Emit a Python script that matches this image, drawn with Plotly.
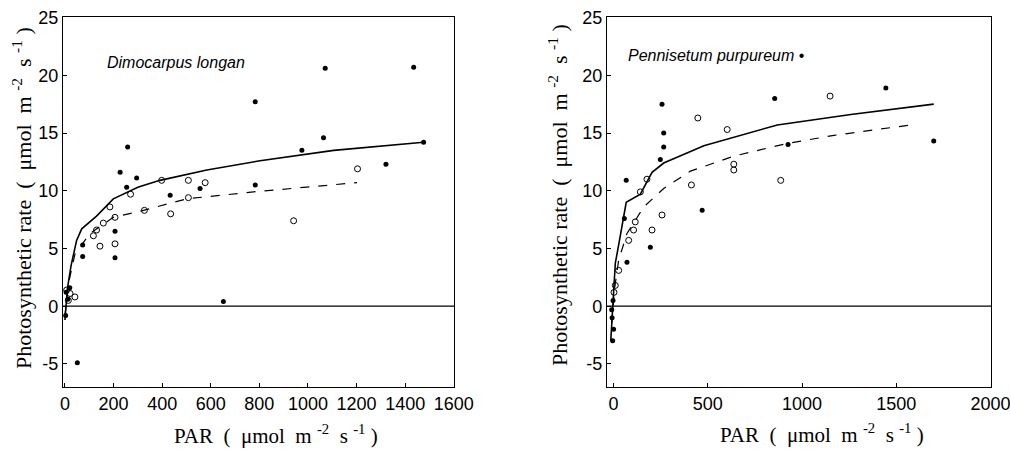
import plotly.graph_objects as go

# ---------- Dimocarpus longan (left) ----------
L_closed_x = [1435, 1071, 783, 1064, 1476, 975, 258, 227, 295, 1321, 783, 254, 556, 433, 206, 206, 73, 73, 51, 652, 5, 12, 20, 3]
L_closed_y = [20.7, 20.6, 17.7, 14.6, 14.2, 13.5, 13.8, 11.6, 11.1, 12.3, 10.5, 10.3, 10.2, 9.6, 6.5, 4.2, 5.3, 4.3, -4.9, 0.4, 1.2, 0.6, 1.6, -0.8]
L_open_x = [1204, 398, 508, 577, 941, 435, 327, 270, 185, 206, 158, 130, 117, 144, 508, 21, 41, 7, 14, 206]
L_open_y = [11.9, 10.9, 10.9, 10.7, 7.4, 8.0, 8.3, 9.7, 8.6, 7.7, 7.2, 6.6, 6.1, 5.2, 9.4, 1.1, 0.8, 1.4, 0.5, 5.4]
L_solid_x = [0, 10, 25, 48, 69, 130, 199, 300, 391, 584, 803, 1106, 1476]
L_solid_y = [-1.2, 1.5, 3.5, 5.7, 6.7, 7.8, 9.3, 10.3, 10.9, 11.8, 12.6, 13.5, 14.2]
L_dash_x = [0, 15, 41, 103, 199, 323, 501, 776, 1202]
L_dash_y = [-0.8, 2.0, 4.5, 6.3, 7.7, 8.3, 9.3, 9.9, 10.7]

# ---------- Pennisetum purpureum (right) ----------
R_closed_x = [1445, 855, 257, 266, 266, 248, 1699, 926, 67, 470, 57, 195, 71, -5, -8, -3, 0, -10]
R_closed_y = [18.9, 18.0, 17.5, 15.0, 13.8, 12.7, 14.3, 14.0, 10.9, 8.3, 7.6, 5.1, 3.8, -3.0, -1.0, 0.5, -2.0, -0.3]
R_open_x = [1149, 447, 603, 638, 638, 887, 413, 177, 142, 257, 204, 115, 106, 80, 27, 9, 2]
R_open_y = [18.2, 16.3, 15.3, 12.3, 11.8, 10.9, 10.5, 11.0, 9.9, 7.9, 6.6, 7.3, 6.6, 5.7, 3.1, 1.8, 1.2]
R_solid_x = [-15, -5, 9, 30, 53, 67, 142, 204, 266, 479, 869, 1259, 1699]
R_solid_y = [-3.0, -0.5, 3.7, 5.6, 7.7, 9.0, 9.7, 11.6, 12.4, 13.9, 15.7, 16.6, 17.5]
R_dash_x = [-10, 5, 27, 71, 160, 266, 408, 638, 922, 1170, 1578]
R_dash_y = [-1.5, 1.5, 4.0, 6.3, 8.6, 10.2, 11.7, 13.0, 14.1, 14.8, 15.7]

L_xticks = [0, 200, 400, 600, 800, 1000, 1200, 1400, 1600]
R_xticks = [0, 500, 1000, 1500, 2000]
y_ticks = [-5, 0, 5, 10, 15, 20, 25]
y_ticktext = ["-5", "0", "5", "10", "15", "20", "25"]

W, H = 1010, 453
fig = go.Figure()

def add_panel(xa, ya, cx, cy, ox, oy, sx, sy, dx, dy):
    fig.add_trace(go.Scatter(x=sx, y=sy, mode="lines", xaxis=xa, yaxis=ya,
                             line=dict(color="black", width=1.6), showlegend=False))
    fig.add_trace(go.Scatter(x=dx, y=dy, mode="lines", xaxis=xa, yaxis=ya,
                             line=dict(color="black", width=1.2, dash="dash"), showlegend=False))
    fig.add_trace(go.Scatter(x=cx, y=cy, mode="markers", xaxis=xa, yaxis=ya,
                             marker=dict(color="black", size=5, symbol="circle"), showlegend=False))
    fig.add_trace(go.Scatter(x=ox, y=oy, mode="markers", xaxis=xa, yaxis=ya,
                             marker=dict(color="black", size=6, symbol="circle-open", line=dict(color="black", width=1)),
                             showlegend=False))

add_panel("x", "y", L_closed_x, L_closed_y, L_open_x, L_open_y, L_solid_x, L_solid_y, L_dash_x, L_dash_y)
add_panel("x2", "y2", R_closed_x, R_closed_y, R_open_x, R_open_y, R_solid_x, R_solid_y, R_dash_x, R_dash_y)

tickfont = dict(family="Liberation Sans, Arial", size=18, color="black")
ax_common = dict(showline=True, linecolor="black", linewidth=1.2, mirror=True, showgrid=False,
                 zeroline=False, ticks="inside", ticklen=4, tickcolor="black", tickfont=tickfont,
                 automargin=False, ticklabeloverflow="allow")

ytop = 1 - 17 / H
ybot = 1 - 387 / H

fig.update_layout(
    width=W, height=H, margin=dict(l=0, r=0, t=0, b=0, autoexpand=False),
    paper_bgcolor="white", plot_bgcolor="white",
    xaxis=dict(domain=[63 / W, 454 / W], range=[-8, 1601], tickvals=L_xticks, anchor="y", **ax_common),
    yaxis=dict(domain=[ybot, ytop], range=[-7, 25.05], tickvals=y_ticks, ticktext=y_ticktext, anchor="x", **ax_common),
    xaxis2=dict(domain=[607 / W, 991 / W], range=[-35, 2003], tickvals=R_xticks, anchor="y2", **ax_common),
    yaxis2=dict(domain=[ybot, ytop], range=[-7, 25.05], tickvals=y_ticks, ticktext=y_ticktext, anchor="x2", **ax_common),
)

# zero lines
fig.add_shape(type="line", xref="x domain", yref="y", x0=0, x1=1, y0=0, y1=0, line=dict(color="black", width=1.3))
fig.add_shape(type="line", xref="x2 domain", yref="y2", x0=0, x1=1, y0=0, y1=0, line=dict(color="black", width=1.3))

serif_x = dict(family="Liberation Serif, Times New Roman", size=21, color="black")
serif_y = dict(family="Liberation Serif, Times New Roman", size=22, color="black")
ytitle = "Photosynthetic rate  (  μmol  m <sup>-2</sup>  s <sup>-1</sup> )"
xtitle = "PAR  (  μmol  m <sup>-2</sup>  s <sup>-1</sup> )"

italic = dict(family="Liberation Sans, Arial", size=16, color="black")
fig.add_annotation(text="<i>Dimocarpus longan</i>", xref="x", yref="y", x=165, y=21.1, xanchor="left",
                   yanchor="middle", showarrow=False, font=italic)
fig.add_annotation(text="<i>Pennisetum purpureum</i> •", xref="x2", yref="y2", x=65, y=21.7, xanchor="left",
                   yanchor="middle", showarrow=False, font=italic)

for (tx, ty, txt, ang, f) in [(276, 434, xtitle, 0, serif_x), (822, 433, xtitle, 0, serif_x),
                              (22, 198, ytitle, -90, serif_y), (558, 195, ytitle, -90, serif_y)]:
    fig.add_annotation(text=txt, xref="paper", yref="paper", x=tx / W, y=1 - ty / H,
                       xanchor="center", yanchor="middle", textangle=ang, showarrow=False, font=f)

fig.write_html("out.html", config={"displayModeBar": False},
               post_script="document.body.style.margin='0px';")
